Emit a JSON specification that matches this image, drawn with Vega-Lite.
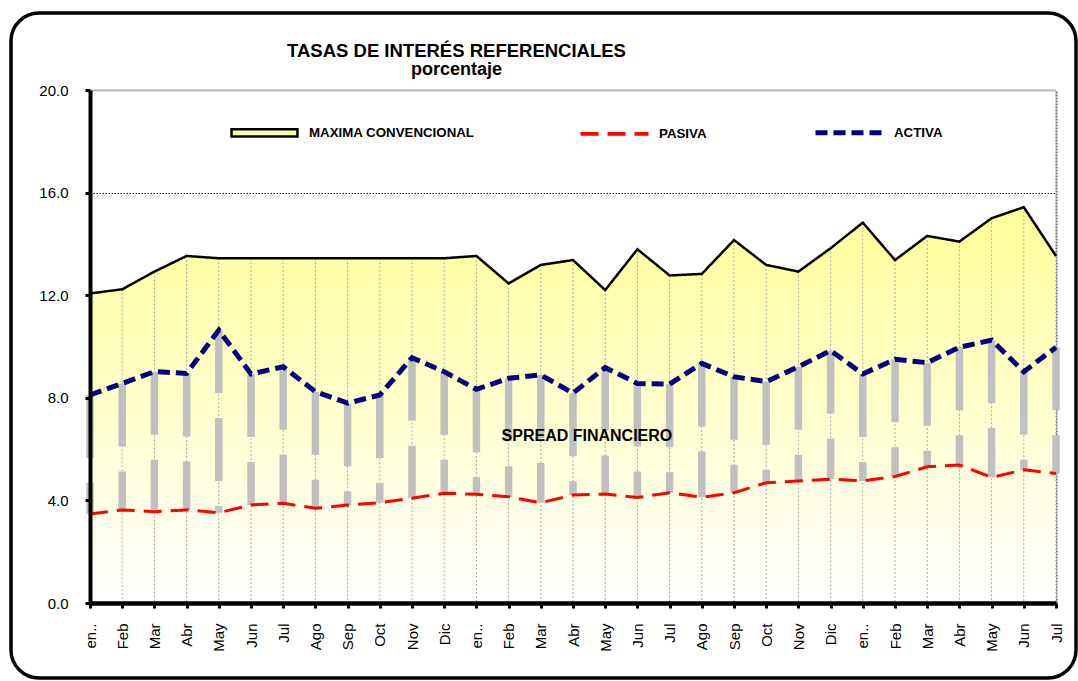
{
  "$schema": "https://vega.github.io/schema/vega-lite/v6.json",
  "autosize": "none",
  "width": 1065,
  "height": 665,
  "padding": {"left": 11, "top": 13, "right": 2, "bottom": 3},
  "background": "white",
  "config": {
    "font": "Liberation Sans",
    "view": {"stroke": "black", "strokeWidth": 3.5, "cornerRadius": 28, "fill": "white"},
    "legend": {"padding": 0}
  },
  "title": {
    "text": "TASAS DE INTERÉS REFERENCIALES",
    "subtitle": "porcentaje",
    "anchor": "middle",
    "frame": "group",
    "offset": -66,
    "dx": -87,
    "font": "Liberation Sans",
    "fontSize": 18.5,
    "fontWeight": "bold",
    "color": "black",
    "subtitleFont": "Liberation Sans",
    "subtitleFontSize": 18,
    "subtitleFontWeight": "bold",
    "subtitleColor": "black",
    "subtitlePadding": 1
  },
  "data": {
    "values": [
      {"fecha": "2005-01", "maxima": 12.07, "activa": 8.11, "pasiva": 3.47},
      {"fecha": "2005-02", "maxima": 12.23, "activa": 8.56, "pasiva": 3.63},
      {"fecha": "2005-03", "maxima": 12.92, "activa": 9.02, "pasiva": 3.56},
      {"fecha": "2005-04", "maxima": 13.53, "activa": 8.95, "pasiva": 3.63},
      {"fecha": "2005-05", "maxima": 13.44, "activa": 10.64, "pasiva": 3.52},
      {"fecha": "2005-06", "maxima": 13.44, "activa": 8.93, "pasiva": 3.82},
      {"fecha": "2005-07", "maxima": 13.44, "activa": 9.21, "pasiva": 3.89},
      {"fecha": "2005-08", "maxima": 13.44, "activa": 8.24, "pasiva": 3.69},
      {"fecha": "2005-09", "maxima": 13.44, "activa": 7.79, "pasiva": 3.82},
      {"fecha": "2005-10", "maxima": 13.44, "activa": 8.11, "pasiva": 3.91},
      {"fecha": "2005-11", "maxima": 13.44, "activa": 9.56, "pasiva": 4.08},
      {"fecha": "2005-12", "maxima": 13.44, "activa": 9.02, "pasiva": 4.28},
      {"fecha": "2006-01", "maxima": 13.53, "activa": 8.33, "pasiva": 4.24},
      {"fecha": "2006-02", "maxima": 12.46, "activa": 8.76, "pasiva": 4.14},
      {"fecha": "2006-03", "maxima": 13.18, "activa": 8.89, "pasiva": 3.91},
      {"fecha": "2006-04", "maxima": 13.37, "activa": 8.18, "pasiva": 4.21},
      {"fecha": "2006-05", "maxima": 12.2, "activa": 9.18, "pasiva": 4.25},
      {"fecha": "2006-06", "maxima": 13.79, "activa": 8.56, "pasiva": 4.11},
      {"fecha": "2006-07", "maxima": 12.77, "activa": 8.53, "pasiva": 4.3},
      {"fecha": "2006-08", "maxima": 12.83, "activa": 9.34, "pasiva": 4.12},
      {"fecha": "2006-09", "maxima": 14.15, "activa": 8.82, "pasiva": 4.3},
      {"fecha": "2006-10", "maxima": 13.18, "activa": 8.63, "pasiva": 4.69},
      {"fecha": "2006-11", "maxima": 12.92, "activa": 9.21, "pasiva": 4.76},
      {"fecha": "2006-12", "maxima": 13.83, "activa": 9.84, "pasiva": 4.83},
      {"fecha": "2007-01", "maxima": 14.83, "activa": 8.93, "pasiva": 4.76},
      {"fecha": "2007-02", "maxima": 13.37, "activa": 9.5, "pasiva": 4.93},
      {"fecha": "2007-03", "maxima": 14.31, "activa": 9.37, "pasiva": 5.31},
      {"fecha": "2007-04", "maxima": 14.09, "activa": 9.97, "pasiva": 5.38},
      {"fecha": "2007-05", "maxima": 15.0, "activa": 10.25, "pasiva": 4.9},
      {"fecha": "2007-06", "maxima": 15.43, "activa": 9.02, "pasiva": 5.19},
      {"fecha": "2007-07", "maxima": 13.53, "activa": 9.97, "pasiva": 5.05}
    ]
  },
  "resolve": {"axis": {"y": "independent"}},
  "layer": [
    {
      "mark": {
        "type": "area",
        "color": {
          "gradient": "linear",
          "x1": 0, "y1": 0, "x2": 0, "y2": 1,
          "stops": [
            {"offset": 0, "color": "#ffff99"},
            {"offset": 1, "color": "#ffffff"}
          ]
        }
      },
      "encoding": {
        "x": {
          "field": "fecha",
          "type": "ordinal",
          "scale": {"type": "point", "range": [79, 1045], "padding": 0},
          "axis": {
            "orient": "bottom",
            "offset": -75,
            "title": null,
            "labelAngle": 270,
            "labelAlign": "right",
            "labelBaseline": "middle",
            "labelFontSize": 15,
            "labelColor": "black",
            "labelPadding": 15,
            "labelExpr": "['en..','Feb','Mar','Abr','May','Jun','Jul','Ago','Sep','Oct','Nov','Dic'][toNumber(slice(datum.value, 5)) - 1]",
            "tickSize": 5,
            "tickWidth": 3,
            "tickColor": "black",
            "domainColor": "black",
            "domainWidth": 4.5,
            "grid": false,
            "zindex": 1
          }
        },
        "y": {
          "field": "maxima",
          "type": "quantitative",
          "scale": {"domain": [0, 20], "range": [590, 77], "nice": false, "zero": true},
          "axis": {
            "orient": "left",
            "offset": -79,
            "title": null,
            "values": [0, 4, 8, 12, 16, 20],
            "format": ".1f",
            "labelFontSize": 15,
            "labelColor": "black",
            "labelPadding": 17,
            "tickSize": 5,
            "tickWidth": 3,
            "tickColor": "black",
            "domainColor": "black",
            "domainWidth": 4,
            "grid": true,
            "gridColor": {"condition": {"test": "datum.value === 20", "value": "#b8b8b8"}, "value": "#202020"},
            "gridDash": {"condition": {"test": "datum.value === 20", "value": [1, 0]}, "value": [1.5, 1.5]},
            "gridWidth": {"condition": {"test": "datum.value === 20", "value": 2}, "value": 1.2},
            "gridOpacity": {"condition": {"test": "datum.value < 16", "value": 0}, "value": 1},
            "zindex": 1
          }
        }
      }
    },
    {
      "mark": {"type": "rule", "color": "#a8a8a8", "strokeWidth": 1, "strokeDash": [2, 2]},
      "encoding": {
        "x": {"field": "fecha", "type": "ordinal"},
        "y": {
          "field": "maxima",
          "type": "quantitative",
          "axis": {
            "orient": "right",
            "offset": -20,
            "title": null,
            "labels": false,
            "ticks": false,
            "grid": false,
            "domainColor": "#707070",
            "domainWidth": 2,
            "domainDash": [2, 1]
          }
        },
        "y2": {"datum": 0}
      }
    },
    {
      "mark": {"type": "line"},
      "encoding": {
        "x": {"field": "fecha", "type": "ordinal"},
        "y": {"field": "maxima", "type": "quantitative", "axis": null},
        "color": {
          "datum": "MAXIMA CONVENCIONAL",
          "type": "nominal",
          "scale": {
            "domain": ["MAXIMA CONVENCIONAL", "PASIVA", "ACTIVA"],
            "range": ["#000000", "#ff0000", "#000080"]
          },
          "legend": {
            "title": null,
            "orient": "none",
            "legendX": 217,
            "legendY": 83,
            "direction": "horizontal",
            "columns": 3,
            "columnPadding": 98,
            "symbolSize": 4624,
            "symbolType": "stroke",
            "symbolFillColor": "#ffffb0",
            "symbolOpacity": 1,
            "labelOffset": 8,
            "labelLimit": 400,
            "labelFont": "Liberation Sans",
            "labelFontSize": 13.3,
            "labelFontWeight": "bold",
            "labelColor": "black"
          }
        },
        "strokeDash": {
          "datum": "MAXIMA CONVENCIONAL",
          "type": "nominal",
          "scale": {
            "domain": ["MAXIMA CONVENCIONAL", "PASIVA", "ACTIVA"],
            "range": [[1, 0], [18, 9], [12, 6]]
          }
        },
        "strokeWidth": {
          "datum": "MAXIMA CONVENCIONAL",
          "type": "ordinal",
          "scale": {
            "domain": ["MAXIMA CONVENCIONAL", "PASIVA", "ACTIVA"],
            "range": [2.5, 5]
          }
        }
      }
    },
    {
      "mark": {"type": "point", "opacity": 0},
      "encoding": {
        "x": {"field": "fecha", "type": "ordinal"},
        "y": {"field": "maxima", "type": "quantitative", "axis": null},
        "shape": {
          "datum": "MAXIMA CONVENCIONAL",
          "type": "nominal",
          "scale": {
            "domain": ["MAXIMA CONVENCIONAL", "PASIVA", "ACTIVA"],
            "range": ["M-0.97,-0.11L0.97,-0.11L0.97,0.11L-0.97,0.11Z", "stroke", "stroke"]
          }
        }
      }
    },
    {
      "mark": {"type": "rule", "color": "#c0c0c0", "strokeWidth": 7.5, "strokeDash": [63, 25], "strokeCap": "butt"},
      "encoding": {
        "x": {"field": "fecha", "type": "ordinal"},
        "y": {"field": "activa", "type": "quantitative", "axis": null},
        "y2": {"field": "pasiva"}
      }
    },
    {
      "mark": {"type": "line", "strokeWidth": 3},
      "encoding": {
        "x": {"field": "fecha", "type": "ordinal"},
        "y": {"field": "pasiva", "type": "quantitative", "axis": null},
        "color": {"datum": "PASIVA", "type": "nominal"},
        "strokeDash": {"datum": "PASIVA", "type": "nominal"}
      }
    },
    {
      "mark": {"type": "line", "strokeWidth": 5},
      "encoding": {
        "x": {"field": "fecha", "type": "ordinal"},
        "y": {"field": "activa", "type": "quantitative", "axis": null},
        "color": {"datum": "ACTIVA", "type": "nominal"},
        "strokeDash": {"datum": "ACTIVA", "type": "nominal"}
      }
    },
    {
      "data": {"values": [{"texto": "SPREAD FINANCIERO"}]},
      "mark": {"type": "text", "align": "left", "baseline": "middle", "dx": -7, "font": "Liberation Sans", "fontSize": 16, "fontWeight": "bold", "color": "black"},
      "encoding": {
        "x": {"datum": "2006-02", "type": "ordinal"},
        "y": {"datum": 6.5, "type": "quantitative", "axis": null},
        "text": {"field": "texto"}
      }
    }
  ]
}
